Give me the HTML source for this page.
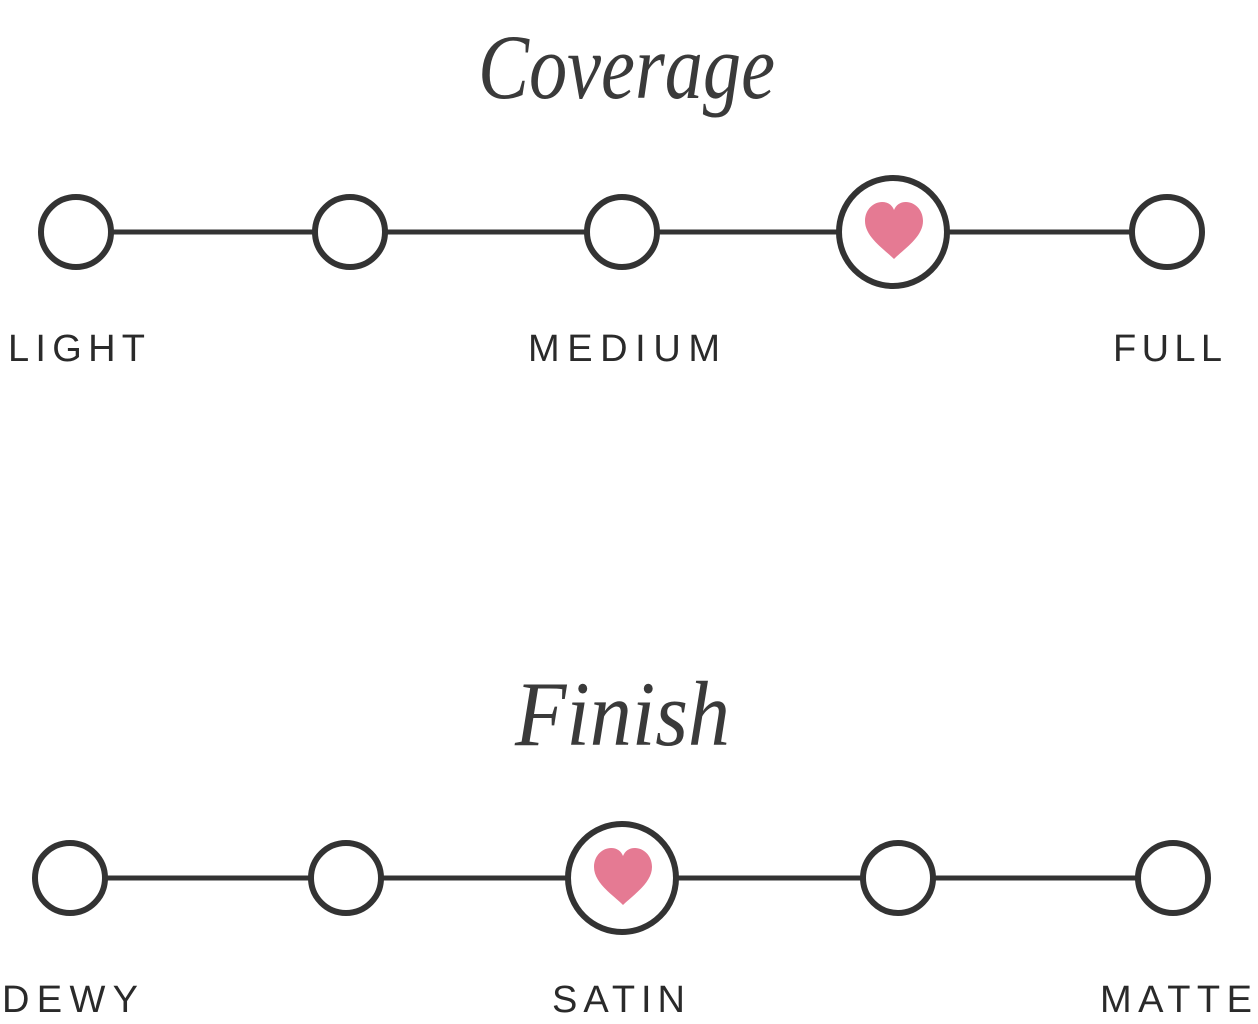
<!DOCTYPE html>
<html><head><style>
html,body{margin:0;padding:0;background:#fff;width:1258px;height:1024px;overflow:hidden}
svg{display:block}
.lbl{font-family:"Liberation Sans",sans-serif;font-size:38px;fill:#2a2a2a}
.ttl{font-family:"Liberation Serif",serif;font-style:italic;font-size:92px;fill:#3a3a3a}
</style></head><body>
<svg width="1258" height="1024" viewBox="0 0 1258 1024">
<defs>
<path id="h" d="M0,28 C-10,18 -29,6 -29,-10 C-29,-22 -20,-29 -12,-29 C-6,-29 -2,-26 0,-21 C2,-26 6,-29 12,-29 C20,-29 29,-22 29,-10 C29,6 10,18 0,28 Z" fill="#e57a93"/>
</defs>
<text class="ttl" x="478" y="98" textLength="297" lengthAdjust="spacingAndGlyphs">Coverage</text>
<g stroke="#333" stroke-width="6" fill="#fff">
<line x1="76" y1="232" x2="1167" y2="232" stroke-width="5"/>
<circle cx="76" cy="232" r="35"/>
<circle cx="350" cy="232" r="35"/>
<circle cx="622" cy="232" r="35"/>
<circle cx="893" cy="232" r="54"/>
<circle cx="1167" cy="232" r="35"/>
</g>
<use href="#h" x="894" y="231"/>
<text class="lbl" x="8" y="361" textLength="137">LIGHT</text>
<text class="lbl" x="528" y="361" textLength="192">MEDIUM</text>
<text class="lbl" x="1113" y="361" textLength="109">FULL</text>

<text class="ttl" x="515" y="745" textLength="215" lengthAdjust="spacingAndGlyphs">Finish</text>
<g stroke="#333" stroke-width="6" fill="#fff">
<line x1="70" y1="878" x2="1173" y2="878" stroke-width="5"/>
<circle cx="70" cy="878" r="35"/>
<circle cx="346" cy="878" r="35"/>
<circle cx="622" cy="878" r="54"/>
<circle cx="898" cy="878" r="35"/>
<circle cx="1173" cy="878" r="35"/>
</g>
<use href="#h" x="623" y="877"/>
<text class="lbl" x="2" y="1012" textLength="136">DEWY</text>
<text class="lbl" x="552" y="1012" textLength="133">SATIN</text>
<text class="lbl" x="1100" y="1012" textLength="152">MATTE</text>
</svg>
</body></html>
